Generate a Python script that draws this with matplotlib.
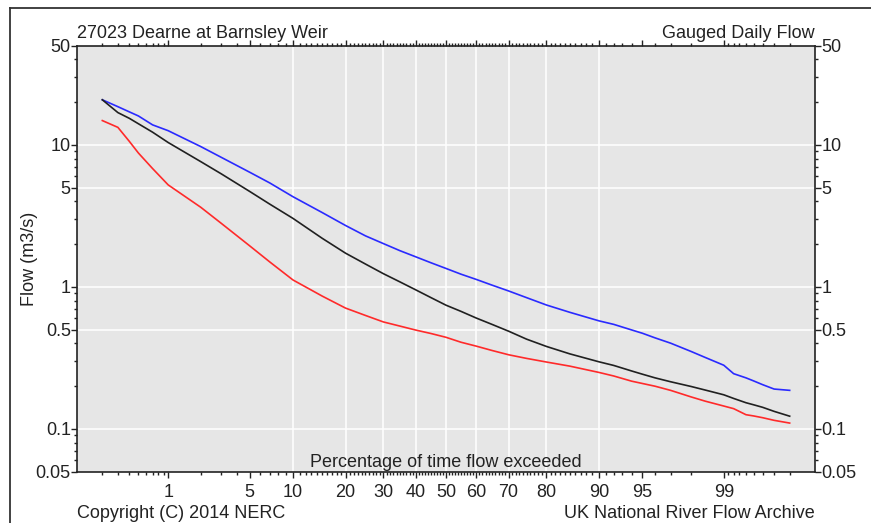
import math
import numpy as np
import matplotlib
matplotlib.use("Agg")
import matplotlib.pyplot as plt
from matplotlib.ticker import FixedLocator, FuncFormatter, NullFormatter
from matplotlib.lines import Line2D

# percentage of time flow exceeded, and flows (m3/s)
exceed_pct = [0.2, 0.3, 0.4, 0.5, 0.7, 1, 2, 3, 5, 7, 10, 15, 20, 25, 30, 35, 40, 45,
              50, 55, 60, 65, 70, 75, 80, 85, 90, 92, 94, 95, 96, 97, 98, 98.5, 99,
              99.2, 99.4, 99.5, 99.6, 99.7, 99.8]
flow_upper = [20.8, 18.6, 17.1, 16.0, 13.85, 12.6, 9.74, 8.17, 6.43, 5.40, 4.32, 3.34,
              2.71, 2.29, 2.02, 1.80, 1.63, 1.48, 1.35, 1.23, 1.13, 1.03, 0.937, 0.841,
              0.746, 0.663, 0.577, 0.545, 0.498, 0.472, 0.438, 0.402, 0.351, 0.319,
              0.281, 0.245, 0.229, 0.218, 0.205, 0.191, 0.187]
flow_mid = [20.8, 16.9, 15.4, 14.1, 12.3, 10.4, 7.63, 6.25, 4.71, 3.83, 3.04, 2.20,
            1.73, 1.45, 1.24, 1.085, 0.954, 0.841, 0.744, 0.673, 0.604, 0.545, 0.488,
            0.429, 0.381, 0.338, 0.297, 0.280, 0.256, 0.243, 0.229, 0.215, 0.199,
            0.188, 0.174, 0.164, 0.153, 0.148, 0.142, 0.133, 0.123]
flow_lower = [14.85, 13.3, 10.6, 8.77, 6.82, 5.23, 3.64, 2.80, 1.95, 1.50, 1.12, 0.862,
              0.71, 0.63, 0.567, 0.53, 0.497, 0.47, 0.442, 0.408, 0.383, 0.357, 0.333,
              0.314, 0.296, 0.277, 0.250, 0.236, 0.217, 0.209, 0.200, 0.187, 0.168,
              0.157, 0.145, 0.139, 0.126, 0.1235, 0.120, 0.115, 0.110]

x_major = [1, 5, 10, 20, 30, 40, 50, 60, 70, 80, 90, 95, 99]
x_grid = [10, 20, 30, 40, 50, 60, 70, 80, 90]
y_major = [0.05, 0.1, 0.5, 1, 5, 10, 50]
y_grid = [0.1, 0.5, 1, 5, 10]

title_left = "27023 Dearne at Barnsley Weir"
title_right = "Gauged Daily Flow"
x_label = "Percentage of time flow exceeded"
y_label = "Flow (m3/s)"
foot_left = "Copyright (C) 2014 NERC"
foot_right = "UK National River Flow Archive"

# normal probability scale
_erf = np.vectorize(math.erf, otypes=[float])


def z_to_pct(z):
    z = np.asarray(z, dtype=float)
    return 100.0 * 0.5 * (1.0 + _erf(z / math.sqrt(2.0)))


def pct_to_z(p):
    q = np.clip(np.asarray(p, dtype=float), 1e-7, 100 - 1e-7)
    lo = np.full(q.shape, -8.0)
    hi = np.full(q.shape, 8.0)
    for _ in range(48):
        mid = 0.5 * (lo + hi)
        below = z_to_pct(mid) < q
        lo = np.where(below, mid, lo)
        hi = np.where(below, hi, mid)
    return 0.5 * (lo + hi)


x_minor = ([round(0.1 * k, 1) for k in range(2, 10)] + list(range(2, 10)) +
           list(range(11, 90)) + list(range(91, 99)) +
           [round(99 + 0.1 * k, 1) for k in range(1, 9)])
x_minor = [v for v in x_minor if v not in x_major]
y_minor = [k * d for d in (0.01, 0.1, 1, 10) for k in (2, 3, 4, 6, 7, 8, 9)
           if 0.05 < k * d < 50]

plt.rcParams['font.family'] = ['Liberation Sans', 'DejaVu Sans']
fs = 13
txt = '#222222'

fig = plt.figure(figsize=(8.71, 5.23), dpi=100)
ax = fig.add_axes([77 / 871, 51.3 / 523, 738 / 871, 426 / 523])
ax.set_facecolor('#e6e6e6')

ax.set_xscale('function', functions=(pct_to_z, z_to_pct))
ax.set_yscale('log')
ax.set_xlim(0.1, 99.9)
ax.set_ylim(0.05, 50)

for v in x_grid:
    ax.axvline(v, color='white', lw=1.1, zorder=1)
for v in y_grid:
    ax.axhline(v, color='white', lw=1.1, zorder=1)

ax.plot(exceed_pct, flow_upper, color='#2a2aff', lw=1.2, zorder=3)
ax.plot(exceed_pct, flow_mid, color='#202020', lw=1.2, zorder=3)
ax.plot(exceed_pct, flow_lower, color='#ff2a2a', lw=1.2, zorder=3)

ax.xaxis.set_major_locator(FixedLocator(x_major))
ax.xaxis.set_minor_locator(FixedLocator(x_minor))
ax.xaxis.set_major_formatter(FuncFormatter(lambda v, p: '%g' % v))
ax.xaxis.set_minor_formatter(NullFormatter())
ax.yaxis.set_major_locator(FixedLocator(y_major))
ax.yaxis.set_minor_locator(FixedLocator(y_minor))
ax.yaxis.set_major_formatter(FuncFormatter(lambda v, p: '%g' % v))
ax.yaxis.set_minor_formatter(NullFormatter())

ax.tick_params(axis='both', which='both', direction='out', colors=txt,
               labelsize=fs, width=1)
ax.tick_params(axis='x', which='both', top=True, bottom=True, labeltop=False)
ax.tick_params(axis='y', which='both', left=True, right=True,
               labelleft=True, labelright=True)
ax.tick_params(axis='both', which='major', length=4)
ax.tick_params(axis='both', which='minor', length=2.2)
ax.tick_params(axis='x', which='major', pad=5)
ax.tick_params(axis='y', which='major', pad=0.5)
for s in ax.spines.values():
    s.set_color(txt)
    s.set_linewidth(1.2)

fig.text(77 / 871, 1 - 38.5 / 523, title_left, ha='left', va='baseline',
         fontsize=fs, color=txt)
fig.text(815 / 871, 1 - 38.5 / 523, title_right, ha='right', va='baseline',
         fontsize=fs, color=txt)
fig.text(446 / 871, 1 - 466.7 / 523, x_label, ha='center', va='baseline',
         fontsize=fs, color=txt)
fig.text(30 / 871, 1 - 258.7 / 523, y_label, ha='center', va='center',
         rotation=90, fontsize=fs, color=txt)
fig.text(77 / 871, 1 - 517.5 / 523, foot_left, ha='left', va='baseline',
         fontsize=fs, color=txt)
fig.text(815 / 871, 1 - 517.5 / 523, foot_right, ha='right', va='baseline',
         fontsize=fs, color=txt)

# outer frame (left and top edges visible in the screenshot)
fig.add_artist(Line2D([9.5 / 871, 9.5 / 871], [0, 1 - 7.5 / 523],
                      transform=fig.transFigure, color='#333333', lw=1.3))
fig.add_artist(Line2D([9.5 / 871, 1], [1 - 7.5 / 523, 1 - 7.5 / 523],
                      transform=fig.transFigure, color='#333333', lw=1.3))

fig.savefig('out.png', dpi=100)
